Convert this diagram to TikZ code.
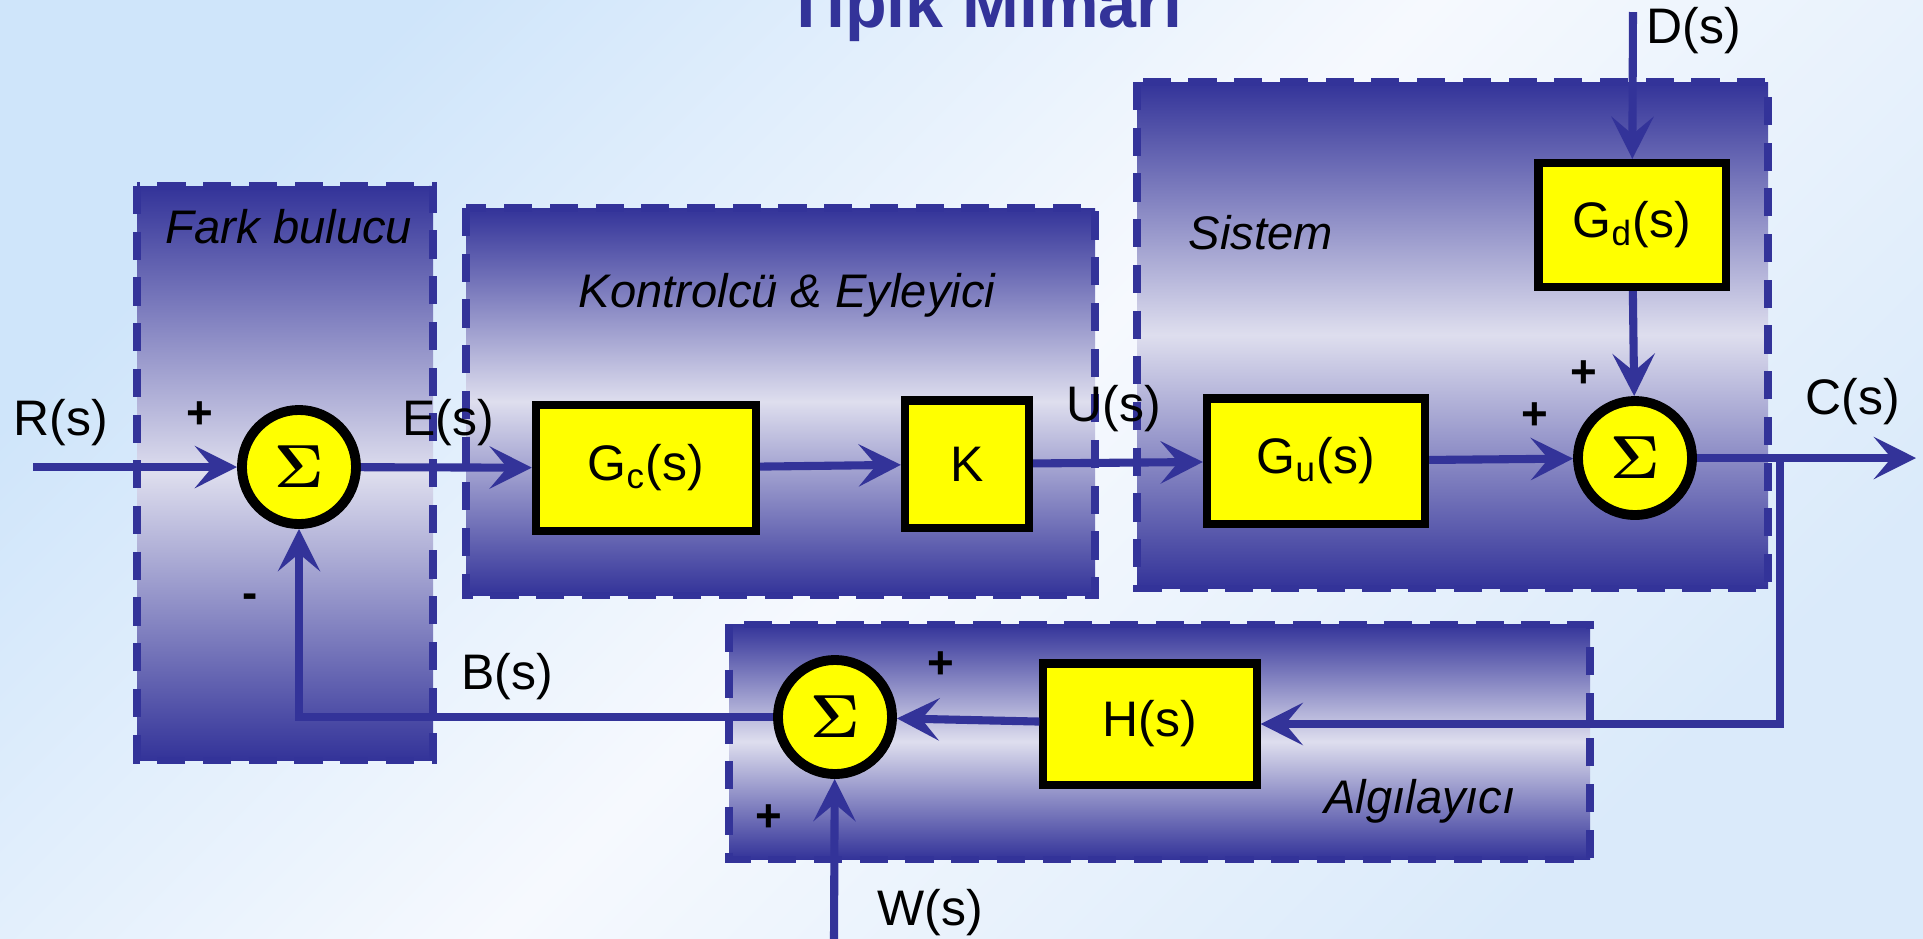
\documentclass[tikz,border=0pt]{standalone}
\usepackage{fontspec}
\setmainfont{Liberation Sans}
\usepackage{tikz}
\usetikzlibrary{arrows.meta,positioning}
\definecolor{navy}{RGB}{51,51,153}
\definecolor{lav}{RGB}{222,222,238}
\definecolor{skyA}{RGB}{207,229,250}
\definecolor{skyB}{RGB}{246,249,254}
\definecolor{skyC}{RGB}{218,234,250}
\definecolor{blkY}{RGB}{255,255,0}
\tikzset{
  grp/.style={draw=navy,line width=2pt,dash pattern=on 8pt off 5pt,
    top color=navy,bottom color=navy,middle color=lav},
  grplbl/.style={font=\fontsize{13.4}{16}\selectfont\itshape,anchor=base},
  blk/.style={draw=black,line width=2.3pt,fill=blkY,inner sep=0pt,
    font=\fontsize{14.2}{17}\selectfont},
  sumn/.style={circle,draw=black,line width=2.8pt,fill=blkY,minimum size=1.14cm,
    inner sep=0pt,font=\fontsize{17}{20}\selectfont\boldmath},
  lbl/.style={font=\fontsize{14.2}{17}\selectfont,anchor=base},
  sgn/.style={font=\fontsize{13}{15}\selectfont\bfseries},
  sig/.style={-{Stealth[length=12pt,width=12pt,inset=5pt]},line width=2.3pt,navy},
}

\begin{document}
\begin{tikzpicture}[x=0.01cm,y=-0.01cm]
  \useasboundingbox (0,0) rectangle (1923,938);
  \clip (0,0) rectangle (1923,938);
  \shade[top color=skyA,bottom color=skyC,middle color=skyB,shading angle=45]
    (0,0) rectangle (1923,938);
  \node[font=\fontsize{19.4}{22}\selectfont\bfseries,text=navy,anchor=base] (ttl)
    at (984,27) {Tipik Mimari};

  % gruplar
  \draw[grp] (137,186) rectangle (433,760);
  \draw[grp] (466,208) rectangle (1095,595);
  \draw[grp] (1137,82) rectangle (1768,588);
  \draw[grp] (729,624) rectangle (1590,859);
  \node[grplbl] (farklbl) at (289,243) {Fark bulucu};
  \node[grplbl] (kontlbl) at (787,307) {Kontrolcü \& Eyleyici};
  \node[grplbl] (sislbl) at (1261,249) {Sistem};
  \node[grplbl] (alglbl) at (1420,813) {Algılayıcı};

  % bloklar
  \node[sumn] (s1) at (299,467) {$\Sigma$};
  \node[blk,minimum width=2.20cm,minimum height=1.26cm] (gc) at (646,468) {G\textsubscript{c}(s)};
  \node[blk,minimum width=1.24cm,minimum height=1.27cm] (k) at (967,464) {K};
  \node[blk,minimum width=2.18cm,minimum height=1.25cm] (gu) at (1316,461) {G\textsubscript{u}(s)};
  \node[blk,minimum width=1.87cm,minimum height=1.24cm] (gd) at (1632,225) {G\textsubscript{d}(s)};
  \node[sumn] (s2) at (1635,458) {$\Sigma$};
  \node[blk,minimum width=2.13cm,minimum height=1.21cm] (h) at (1150,724) {H(s)};
  \node[sumn] (s3) at (835,717) {$\Sigma$};

  \coordinate (rin) at (33,467);
  \coordinate (din) at (1633,12);
  \coordinate (win) at (834,940);
  \coordinate (cout) at (1916,458);
  \coordinate (cj) at (1780,458);

  \draw[sig] (rin) -- (s1);
  \draw[sig] (s1) -- (gc);
  \draw[sig] (gc) -- (k);
  \draw[sig] (k) -- (gu);
  \draw[sig] (gu) -- (s2);
  \draw[sig] (din) -- (gd);
  \draw[sig] (gd) -- (s2);
  \draw[sig] (s2) -- (cout);
  \draw[sig] (cj) |- (h);
  \draw[sig] (h) -- (s3);
  \draw[sig] (s3) -| (s1);
  \draw[sig] (win) -- (s3);

  % sinyal adlari
  \node[lbl] (rlbl) at (61,435) {R(s)};
  \node[lbl] (elbl) at (448,435) {E(s)};
  \node[lbl] (ulbl) at (1114,421) {U(s)};
  \node[lbl] (clbl) at (1853,414) {C(s)};
  \node[lbl] (dlbl) at (1694,43) {D(s)};
  \node[lbl] (blbl) at (507,689) {B(s)};
  \node[lbl] (wlbl) at (930,925) {W(s)};

  % isaretler
  \node[sgn] (p1) at (200,415) {+};
  \node[sgn] (m1) at (250,601) {-};
  \node[sgn] (p2) at (1584,374) {+};
  \node[sgn] (p3) at (1535,416) {+};
  \node[sgn] (p4) at (941,665) {+};
  \node[sgn] (p5) at (769,818) {+};
\end{tikzpicture}
\end{document}
